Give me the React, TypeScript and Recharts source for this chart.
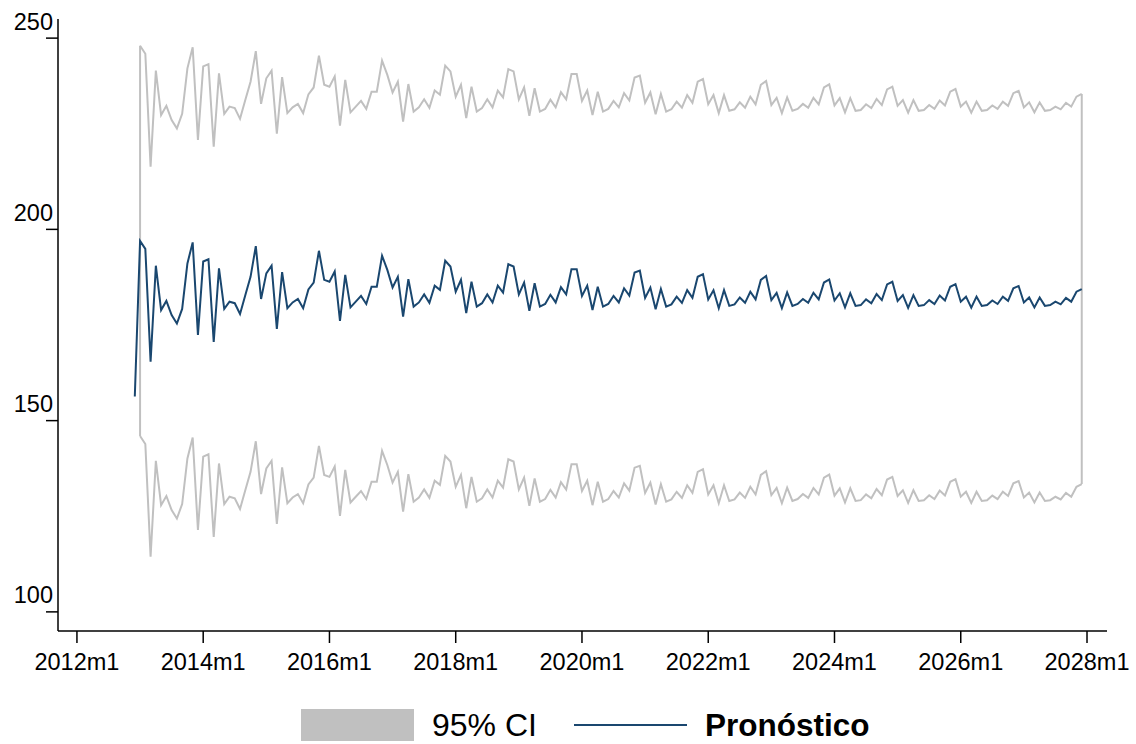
import { ComposedChart, Line, XAxis, YAxis, ReferenceLine } from "recharts";

// months counted from 2012m1; forecast starts at 2012m12, CI at 2013m1
const forecastStart = 11;
const ciStart = 12;

const forecast = [
  156.3,
  197.0, 194.9, 165.4, 190.5, 178.9, 181.3, 177.6, 175.4, 179.2, 191.1, 196.6, 172.4,
  191.6, 192.2, 170.6, 189.8, 179.2, 181.1, 180.7, 177.9, 182.8, 187.6, 195.6, 181.8,
  188.5, 190.5, 174.0, 188.8, 179.4, 180.9, 181.8, 179.4, 184.3, 186.1, 194.4, 186.8,
  186.3, 189.0, 176.1, 188.1, 179.6, 181.1, 182.6, 180.5, 185.0, 185.0, 193.1, 189.4,
  184.8, 187.6, 177.2, 187.0, 179.8, 180.9, 183.0, 180.8, 185.3, 184.2, 191.8, 190.3,
  183.7, 186.8, 178.1, 186.3, 179.8, 180.7, 183.0, 180.9, 185.3, 183.5, 190.9, 190.3,
  183.0, 186.1, 178.7, 185.9, 179.8, 180.5, 182.9, 180.9, 184.9, 183.0, 189.6, 189.6,
  182.6, 185.3, 178.9, 185.0, 179.8, 180.5, 182.6, 180.9, 184.6, 182.7, 188.7, 189.2,
  182.1, 184.8, 179.1, 184.4, 179.8, 180.4, 182.4, 180.8, 184.1, 182.1, 187.6, 188.3,
  181.7, 184.1, 179.4, 184.1, 180.0, 180.4, 182.2, 180.8, 183.7, 181.7, 186.8, 187.8,
  181.5, 183.4, 179.4, 183.5, 180.0, 180.5, 181.8, 180.8, 183.4, 181.7, 186.1, 186.9,
  181.4, 183.3, 179.6, 183.3, 180.0, 180.2, 181.7, 180.7, 183.1, 181.5, 185.6, 186.3,
  181.3, 182.8, 179.5, 182.8, 180.0, 180.2, 181.5, 180.5, 182.7, 181.4, 185.0, 185.7,
  181.1, 182.4, 179.5, 182.4, 180.0, 180.2, 181.4, 180.5, 182.4, 181.3, 184.6, 185.2,
  180.9, 182.2, 179.6, 182.2, 180.0, 180.2, 181.1, 180.4, 182.1, 181.1, 183.7, 184.4,
];

const ciUpper = [
  248.0, 245.9, 216.4, 241.5, 229.9, 232.3, 228.6, 226.4, 230.2, 242.1, 247.6, 223.4,
  242.6, 243.2, 221.6, 240.8, 230.2, 232.1, 231.7, 228.9, 233.8, 238.6, 246.6, 232.8,
  239.5, 241.5, 225.0, 239.8, 230.4, 231.9, 232.8, 230.4, 235.3, 237.1, 245.4, 237.8,
  237.3, 240.0, 227.1, 239.1, 230.6, 232.1, 233.6, 231.5, 236.0, 236.0, 244.1, 240.4,
  235.8, 238.6, 228.2, 238.0, 230.8, 231.9, 234.0, 231.8, 236.3, 235.2, 242.8, 241.3,
  234.7, 237.8, 229.1, 237.3, 230.8, 231.7, 234.0, 231.9, 236.3, 234.5, 241.9, 241.3,
  234.0, 237.1, 229.7, 236.9, 230.8, 231.5, 233.9, 231.9, 235.9, 234.0, 240.6, 240.6,
  233.6, 236.3, 229.9, 236.0, 230.8, 231.5, 233.6, 231.9, 235.6, 233.7, 239.7, 240.2,
  233.1, 235.8, 230.1, 235.4, 230.8, 231.4, 233.4, 231.8, 235.1, 233.1, 238.6, 239.3,
  232.7, 235.1, 230.4, 235.1, 231.0, 231.4, 233.2, 231.8, 234.7, 232.7, 237.8, 238.8,
  232.5, 234.4, 230.4, 234.5, 231.0, 231.5, 232.8, 231.8, 234.4, 232.7, 237.1, 237.9,
  232.4, 234.3, 230.6, 234.3, 231.0, 231.2, 232.7, 231.7, 234.1, 232.5, 236.6, 237.3,
  232.3, 233.8, 230.5, 233.8, 231.0, 231.2, 232.5, 231.5, 233.7, 232.4, 236.0, 236.7,
  232.1, 233.4, 230.5, 233.4, 231.0, 231.2, 232.4, 231.5, 233.4, 232.3, 235.6, 236.2,
  231.9, 233.2, 230.6, 233.2, 231.0, 231.2, 232.1, 231.4, 233.1, 232.1, 234.7, 235.4,
];

const ciLower = [
  146.0, 143.9, 114.4, 139.5, 127.9, 130.3, 126.6, 124.4, 128.2, 140.1, 145.6, 121.4,
  140.6, 141.2, 119.6, 138.8, 128.2, 130.1, 129.7, 126.9, 131.8, 136.6, 144.6, 130.8,
  137.5, 139.5, 123.0, 137.8, 128.4, 129.9, 130.8, 128.4, 133.3, 135.1, 143.4, 135.8,
  135.3, 138.0, 125.1, 137.1, 128.6, 130.1, 131.6, 129.5, 134.0, 134.0, 142.1, 138.4,
  133.8, 136.6, 126.2, 136.0, 128.8, 129.9, 132.0, 129.8, 134.3, 133.2, 140.8, 139.3,
  132.7, 135.8, 127.1, 135.3, 128.8, 129.7, 132.0, 129.9, 134.3, 132.5, 139.9, 139.3,
  132.0, 135.1, 127.7, 134.9, 128.8, 129.5, 131.9, 129.9, 133.9, 132.0, 138.6, 138.6,
  131.6, 134.3, 127.9, 134.0, 128.8, 129.5, 131.6, 129.9, 133.6, 131.7, 137.7, 138.2,
  131.1, 133.8, 128.1, 133.4, 128.8, 129.4, 131.4, 129.8, 133.1, 131.1, 136.6, 137.3,
  130.7, 133.1, 128.4, 133.1, 129.0, 129.4, 131.2, 129.8, 132.7, 130.7, 135.8, 136.8,
  130.5, 132.4, 128.4, 132.5, 129.0, 129.5, 130.8, 129.8, 132.4, 130.7, 135.1, 135.9,
  130.4, 132.3, 128.6, 132.3, 129.0, 129.2, 130.7, 129.7, 132.1, 130.5, 134.6, 135.3,
  130.3, 131.8, 128.5, 131.8, 129.0, 129.2, 130.5, 129.5, 131.7, 130.4, 134.0, 134.7,
  130.1, 131.4, 128.5, 131.4, 129.0, 129.2, 130.4, 129.5, 131.4, 130.3, 133.6, 134.2,
  129.9, 131.2, 128.6, 131.2, 129.0, 129.2, 130.1, 129.4, 131.1, 130.1, 132.7, 133.4,
];

const xTickLabels = ["2012m1", "2014m1", "2016m1", "2018m1", "2020m1", "2022m1", "2024m1", "2026m1", "2028m1"];
const xTicks = xTickLabels.map((_, i) => i * 24);
const yTicks = [100, 150, 200, 250];

const data = forecast.map((v, i) => {
  const t = forecastStart + i;
  const j = t - ciStart;
  return {
    t,
    forecast: v,
    upper: j >= 0 ? ciUpper[j] : null,
    lower: j >= 0 ? ciLower[j] : null,
  };
});

const ciEnd = ciStart + ciUpper.length - 1;
const last = ciUpper.length - 1;

const FONT = "'Liberation Sans', Arial, Helvetica, sans-serif";
const NAVY = "#1a476f";
const GRAY = "#c0c0c0";

const XTick = ({ x, y, payload }: any) => (
  <text x={x} y={y + 25} textAnchor="middle" fontSize={23.5} fontFamily={FONT} fill="#000">
    {xTickLabels[payload.value / 24]}
  </text>
);

const YTick = ({ x, y, payload }: any) => (
  <text x={x + 9} y={y - 8.5} textAnchor="end" fontSize={23.5} fontFamily={FONT} fill="#000">
    {payload.value}
  </text>
);

export default function App() {
  return (
    <div style={{ position: "absolute", left: 0, top: 0, width: 1136, height: 744, background: "#fff" }}>
      <ComposedChart width={1136} height={744} data={data} margin={{ top: 19, right: 29, bottom: 53, left: 0 }}>
        <XAxis
          dataKey="t"
          type="number"
          domain={[-3.6, 195.8]}
          allowDataOverflow
          ticks={xTicks}
          interval={0}
          height={60}
          tickSize={12}
          tick={<XTick />}
          axisLine={{ stroke: "#000", strokeWidth: 1.5 }}
          tickLine={{ stroke: "#000", strokeWidth: 1.5 }}
        />
        <YAxis
          type="number"
          domain={[95, 255]}
          allowDataOverflow
          ticks={yTicks}
          interval={0}
          width={58}
          tickSize={12}
          tick={<YTick />}
          axisLine={{ stroke: "#000", strokeWidth: 1.5 }}
          tickLine={{ stroke: "#000", strokeWidth: 1.5 }}
        />
        <ReferenceLine
          segment={[{ x: ciStart, y: ciLower[0] }, { x: ciStart, y: ciUpper[0] }]}
          stroke={GRAY}
          strokeWidth={2}
        />
        <ReferenceLine
          segment={[{ x: ciEnd, y: ciLower[last] }, { x: ciEnd, y: ciUpper[last] }]}
          stroke={GRAY}
          strokeWidth={2}
        />
        <Line dataKey="upper" type="linear" stroke={GRAY} strokeWidth={2} dot={false} isAnimationActive={false} />
        <Line dataKey="lower" type="linear" stroke={GRAY} strokeWidth={2} dot={false} isAnimationActive={false} />
        <Line dataKey="forecast" type="linear" stroke={NAVY} strokeWidth={2} dot={false} isAnimationActive={false} />
      </ComposedChart>

      {/* legend */}
      <div style={{ position: "absolute", left: 301, top: 709, width: 113, height: 32, background: GRAY }} />
      <div style={{ position: "absolute", left: 432, top: 707, fontFamily: FONT, fontSize: 32, lineHeight: "37px", color: "#000" }}>
        95% CI
      </div>
      <div style={{ position: "absolute", left: 574, top: 724, width: 113, height: 2, background: NAVY }} />
      <div style={{ position: "absolute", left: 705, top: 707, fontFamily: FONT, fontSize: 31.5, fontWeight: "bold", lineHeight: "37px", color: "#000" }}>
        Pronóstico
      </div>
    </div>
  );
}
